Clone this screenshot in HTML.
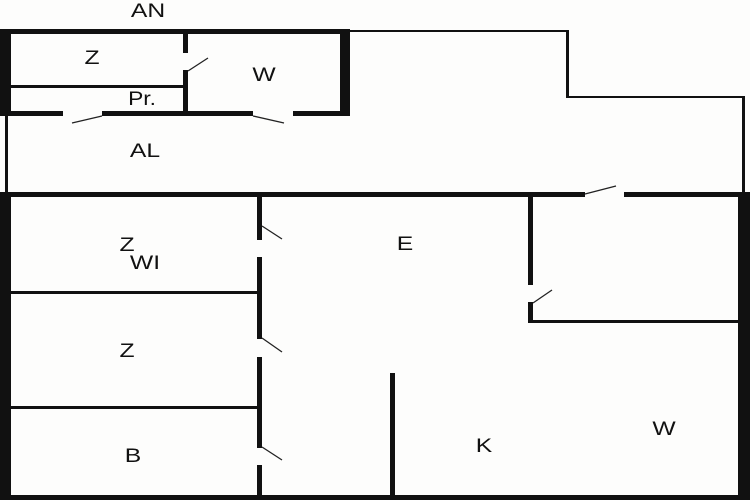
<!DOCTYPE html>
<html><head><meta charset="utf-8"><style>
html,body{margin:0;padding:0;background:#fdfdfc;}
svg{display:block}
text{font-family:"Liberation Sans",sans-serif;font-size:19px;fill:#111;}
</style></head><body>
<svg width="750" height="500" viewBox="0 0 750 500" xmlns="http://www.w3.org/2000/svg">
<rect width="750" height="500" fill="#fdfdfc"/>
<g fill="#111">
<!-- top block -->
<rect x="0" y="29" width="350" height="5"/>
<rect x="350" y="30" width="218" height="2"/>
<rect x="0" y="29" width="11" height="86"/>
<rect x="340" y="29" width="10" height="87"/>
<rect x="0" y="111" width="63" height="5"/>
<rect x="102" y="111" width="151" height="5"/>
<rect x="293" y="111" width="57" height="5"/>
<rect x="183" y="33" width="5" height="20"/>
<rect x="183" y="70" width="5" height="43"/>
<rect x="10" y="85" width="173" height="3"/>
<!-- AL -->
<rect x="5" y="115" width="3" height="80"/>
<rect x="566" y="30" width="3" height="68"/>
<rect x="566" y="96" width="179" height="2"/>
<rect x="742" y="96" width="3" height="100"/>
<!-- main horizontal -->
<rect x="0" y="192" width="585" height="5"/>
<rect x="624" y="192" width="126" height="5"/>
<!-- lower walls -->
<rect x="0" y="192" width="11" height="308"/>
<rect x="0" y="495" width="750" height="5"/>
<rect x="738" y="192" width="12" height="308"/>
<rect x="257" y="197" width="5" height="43"/>
<rect x="257" y="257" width="5" height="82"/>
<rect x="257" y="357" width="5" height="91"/>
<rect x="257" y="465" width="5" height="32"/>
<rect x="10" y="291" width="247" height="3"/>
<rect x="10" y="406" width="247" height="3"/>
<rect x="528" y="197" width="5" height="88"/>
<rect x="528" y="302" width="5" height="21"/>
<rect x="528" y="320" width="212" height="3"/>
<rect x="390" y="373" width="5" height="124"/>
</g>
<g stroke="#222" stroke-width="1.3" fill="none">
<line x1="188" y1="71" x2="208" y2="58"/>
<line x1="72" y1="123" x2="102" y2="116"/>
<line x1="253" y1="116" x2="284" y2="123"/>
<line x1="585" y1="194" x2="616" y2="186"/>
<line x1="262" y1="226" x2="282" y2="239"/>
<line x1="262" y1="338" x2="282" y2="352"/>
<line x1="262" y1="447" x2="282" y2="460"/>
<line x1="533" y1="303" x2="552" y2="290"/>
</g>
<g>
<text transform="translate(148,17) scale(1.3,1)" text-anchor="middle">AN</text>
<text transform="translate(92,64) scale(1.3,1)" text-anchor="middle">Z</text>
<text transform="translate(264,81) scale(1.3,1)" text-anchor="middle">W</text>
<text transform="translate(142,105) scale(1.2,1)" text-anchor="middle">Pr.</text>
<text transform="translate(145,157) scale(1.3,1)" text-anchor="middle">AL</text>
<text transform="translate(127,251) scale(1.3,1)" text-anchor="middle">Z</text>
<text transform="translate(145,269) scale(1.3,1)" text-anchor="middle">WI</text>
<text transform="translate(405,250) scale(1.3,1)" text-anchor="middle">E</text>
<text transform="translate(127,357) scale(1.3,1)" text-anchor="middle">Z</text>
<text transform="translate(133,462) scale(1.3,1)" text-anchor="middle">B</text>
<text transform="translate(484,452) scale(1.3,1)" text-anchor="middle">K</text>
<text transform="translate(664,435) scale(1.3,1)" text-anchor="middle">W</text>
</g>
</svg>
</body></html>
